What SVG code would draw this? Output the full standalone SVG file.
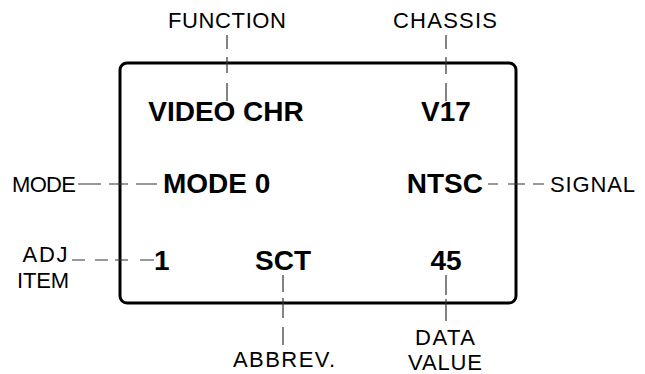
<svg xmlns="http://www.w3.org/2000/svg" width="645" height="374" viewBox="0 0 645 374">
<style>
.lbl{font-family:"Liberation Sans",Arial,sans-serif;font-size:22px;fill:#000}
.val{font-family:"Liberation Sans",Arial,sans-serif;font-size:28px;font-weight:bold;fill:#000}
.con{stroke:#333;stroke-width:1.2;fill:none}
.box{stroke:#000;stroke-width:3;fill:none}
</style>
<rect width="645" height="374" fill="#fff"/>
<g id="display"><rect class="box" x="120" y="63" width="396" height="240" rx="7"/></g>
<g id="connectors">
<path class="con" d="M227 35V49M227 57V73M227 83V101"/>
<path class="con" d="M446 35V49M446 57V74M446 83V101"/>
<path class="con" d="M78 184H101M109 184H128M136 184H157"/>
<path class="con" d="M488 184H498M508 184H525M533 184H544"/>
<path class="con" d="M72 260H85M95 260H108M115 260H128M140 260H154"/>
<path class="con" d="M283 275V292M283 298V318M283 327V345"/>
<path class="con" d="M446 275V295M446 299V321"/>
</g>
<g id="function"><text class="lbl" x="227" y="28" text-anchor="middle" textLength="118">FUNCTION</text></g>
<g id="chassis"><text class="lbl" x="445" y="28" text-anchor="middle" textLength="104">CHASSIS</text></g>
<g id="video-chr"><text class="val" x="226" y="121" text-anchor="middle">VIDEO CHR</text></g>
<g id="v17"><text class="val" x="446" y="121" text-anchor="middle">V17</text></g>
<g id="mode"><text class="lbl" x="12" y="192" textLength="64">MODE</text></g>
<g id="mode-0"><text class="val" x="163" y="193">MODE 0</text></g>
<g id="ntsc"><text class="val" x="483" y="193" text-anchor="end">NTSC</text></g>
<g id="signal"><text class="lbl" x="550" y="192" textLength="85">SIGNAL</text></g>
<g id="adj-item"><text class="lbl" x="45" y="262" text-anchor="middle" textLength="45">ADJ</text><text class="lbl" x="43" y="288" text-anchor="middle" textLength="52">ITEM</text></g>
<g id="item-1"><text class="val" x="154" y="270">1</text></g>
<g id="sct"><text class="val" x="283" y="270" text-anchor="middle">SCT</text></g>
<g id="v45"><text class="val" x="446" y="270" text-anchor="middle">45</text></g>
<g id="abbrev"><text class="lbl" x="284" y="367" text-anchor="middle" textLength="102">ABBREV.</text></g>
<g id="data-value"><text class="lbl" x="445" y="345" text-anchor="middle" textLength="60">DATA</text><text class="lbl" x="445" y="370" text-anchor="middle" textLength="74">VALUE</text></g>
</svg>
